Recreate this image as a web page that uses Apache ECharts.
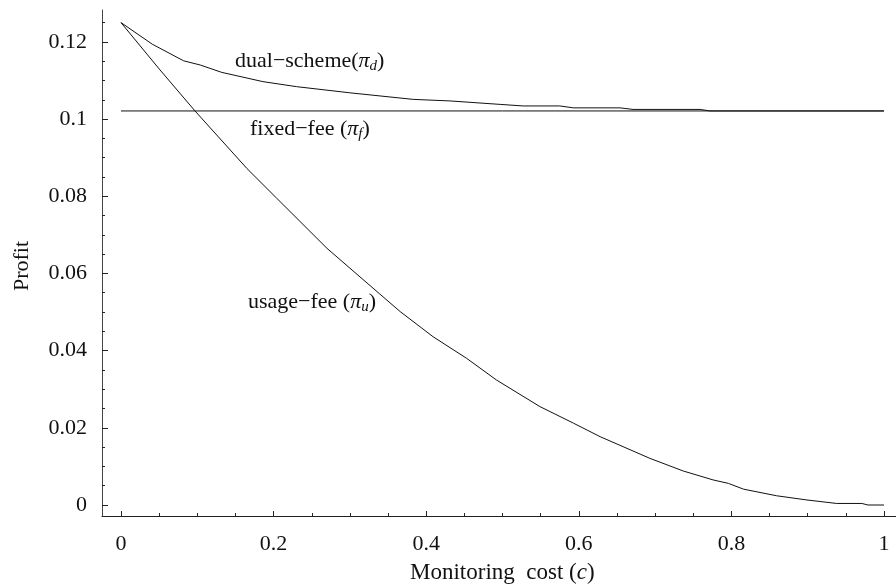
<!DOCTYPE html>
<html>
<head>
<meta charset="utf-8">
<script src="https://cdn.jsdelivr.net/npm/echarts@6/dist/echarts.min.js"></script>
<style>
  html, body { margin: 0; padding: 0; background: #fff; }
  #chart { width: 896px; height: 587px; }
</style>
</head>
<body>
<div id="chart"></div>
<script>
// monitoring cost c and profits
const usageC = [0, 0.05, 0.097, 0.165, 0.204, 0.27, 0.339, 0.366, 0.409, 0.453, 0.492, 0.549, 0.593, 0.628, 0.693, 0.737, 0.776, 0.796, 0.816, 0.859, 0.899, 0.938, 0.971, 0.979, 1.0]
const usageProfit = [0.125, 0.113, 0.1021, 0.0872, 0.0795, 0.0665, 0.0547, 0.0501, 0.0436, 0.038, 0.0324, 0.0255, 0.0212, 0.0177, 0.0121, 0.0088, 0.0065, 0.0056, 0.0041, 0.0024, 0.0013, 0.0004, 0.0004, 0, 0]

const dualC = [0, 0.041, 0.082, 0.104, 0.132, 0.186, 0.23, 0.3, 0.383, 0.431, 0.497, 0.527, 0.575, 0.593, 0.654, 0.671, 0.759, 0.772, 1.0]
const dualProfit = [0.125, 0.1194, 0.1151, 0.114, 0.1121, 0.1097, 0.1084, 0.1068, 0.1051, 0.1047, 0.1038, 0.1034, 0.1034, 0.1029, 0.1029, 0.1025, 0.1025, 0.1021, 0.1021]

const fixedC = [0, 1]
const fixedProfit = [0.1021, 0.1021]

const xTicks = [0, 0.2, 0.4, 0.6, 0.8, 1]
const xMinorTicks = [0.05, 0.1, 0.15, 0.25, 0.3, 0.35, 0.45, 0.5, 0.55, 0.65, 0.7, 0.75, 0.85, 0.9, 0.95]
const yTicks = [0, 0.02, 0.04, 0.06, 0.08, 0.1, 0.12]
const yMinorTicks = [0.005, 0.01, 0.015, 0.025, 0.03, 0.035, 0.045, 0.05, 0.055, 0.065, 0.07, 0.075, 0.085, 0.09, 0.095, 0.105, 0.11, 0.115, 0.125]

const FONT = 'Liberation Serif'
const fmt = v => String(Number(v.toFixed(3)))
const pairs = (xs, ys) => xs.map((x, i) => [x, ys[i]])

const lineStyle = { color: '#111', width: 1 }
const axisBase = {
  type: 'value',
  min: -0.0249,
  max: 1.0157,
  splitLine: { show: false }
}
const yBase = {
  type: 'value',
  min: -0.00285,
  max: 0.12826,
  splitLine: { show: false }
}

const chart = echarts.init(document.getElementById('chart'))
chart.setOption({
  animation: false,
  backgroundColor: '#fff',
  grid: { left: 102, right: 0, top: 10, bottom: 71 },
  xAxis: [
    Object.assign({}, axisBase, {
      position: 'bottom',
      axisLine: { show: true, onZero: false, lineStyle: { color: '#222', width: 1 } },
      axisTick: { show: true, inside: true, length: 5, customValues: xTicks, lineStyle: { color: '#222' } },
      axisLabel: { customValues: xTicks, formatter: fmt, fontFamily: FONT, fontSize: 22, color: '#111', margin: 17 }
    }),
    Object.assign({}, axisBase, {
      position: 'bottom',
      axisLine: { show: false, onZero: false },
      axisTick: { show: true, inside: true, length: 3, customValues: xMinorTicks, lineStyle: { color: '#222' } },
      axisLabel: { show: false }
    })
  ],
  yAxis: [
    Object.assign({}, yBase, {
      position: 'left',
      axisLine: { show: true, onZero: false, lineStyle: { color: '#444', width: 1 } },
      axisTick: { show: true, inside: true, length: 6, customValues: yTicks, lineStyle: { color: '#222' } },
      axisLabel: { customValues: yTicks, formatter: fmt, fontFamily: FONT, fontSize: 22, color: '#111', margin: 15 }
    }),
    Object.assign({}, yBase, {
      position: 'left',
      axisLine: { show: false, onZero: false },
      axisTick: { show: true, inside: true, length: 3, customValues: yMinorTicks, lineStyle: { color: '#222' } },
      axisLabel: { show: false }
    })
  ],
  series: [
    { name: 'usage', type: 'line', data: pairs(usageC, usageProfit), showSymbol: false, symbol: 'none', lineStyle: lineStyle, silent: true },
    { name: 'dual', type: 'line', data: pairs(dualC, dualProfit), showSymbol: false, symbol: 'none', lineStyle: lineStyle, silent: true },
    { name: 'fixed', type: 'line', data: pairs(fixedC, fixedProfit), showSymbol: false, symbol: 'none', lineStyle: lineStyle, silent: true }
  ],
  graphic: [
    {
      type: 'text', left: 235, top: 48,
      style: {
        text: 'dual−scheme({p|π}{s|d})',
        font: '22px "Liberation Serif"', fill: '#111', lineHeight: 26,
        rich: {
          p: { fontFamily: FONT, fontSize: 22, fontStyle: 'italic', lineHeight: 26 },
          s: { fontFamily: FONT, fontSize: 15, fontStyle: 'italic', lineHeight: 14, verticalAlign: 'bottom' }
        }
      }
    },
    {
      type: 'text', left: 250, top: 116,
      style: {
        text: 'fixed−fee ({p|π}{s|f})',
        font: '22px "Liberation Serif"', fill: '#111', lineHeight: 26,
        rich: {
          p: { fontFamily: FONT, fontSize: 22, fontStyle: 'italic', lineHeight: 26 },
          s: { fontFamily: FONT, fontSize: 15, fontStyle: 'italic', lineHeight: 14, verticalAlign: 'bottom' }
        }
      }
    },
    {
      type: 'text', left: 248, top: 289,
      style: {
        text: 'usage−fee ({p|π}{s|u})',
        font: '22px "Liberation Serif"', fill: '#111', lineHeight: 26,
        rich: {
          p: { fontFamily: FONT, fontSize: 22, fontStyle: 'italic', lineHeight: 26 },
          s: { fontFamily: FONT, fontSize: 15, fontStyle: 'italic', lineHeight: 14, verticalAlign: 'bottom' }
        }
      }
    },
    {
      type: 'text', left: 410, top: 560,
      style: {
        text: 'Monitoring  cost ({i|c})',
        font: '23px "Liberation Serif"', fill: '#111', lineHeight: 26,
        rich: { i: { fontFamily: FONT, fontSize: 23, fontStyle: 'italic', lineHeight: 26 } }
      }
    },
    {
      type: 'text', x: 22, y: 266, rotation: Math.PI / 2,
      style: {
        text: 'Profit', font: '22px "Liberation Serif"', fill: '#111',
        align: 'center', verticalAlign: 'middle'
      }
    }
  ]
})
</script>
</body>
</html>
